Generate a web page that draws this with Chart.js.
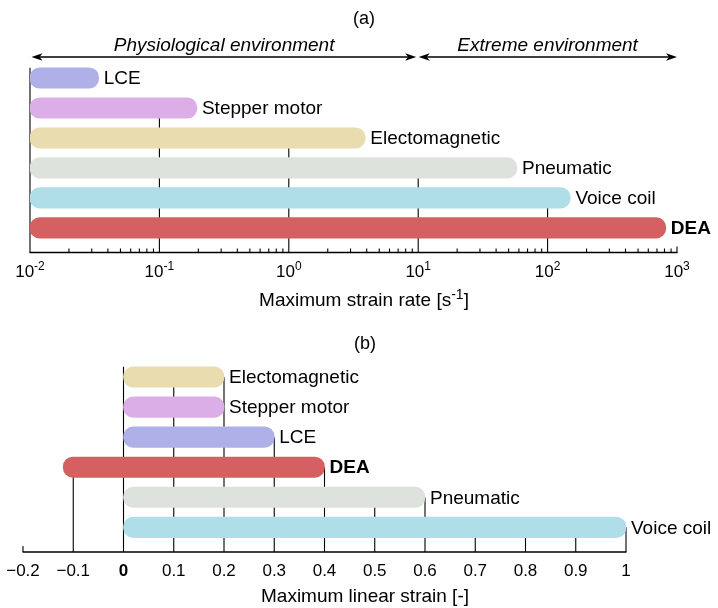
<!DOCTYPE html>
<html>
<head>
<meta charset="utf-8">
<script src="https://cdn.jsdelivr.net/npm/chart.js@4.4.0/dist/chart.umd.min.js"></script>
<style>
body { margin: 0; background: #fff; width: 718px; height: 608px; overflow: hidden; position: relative; }
canvas { position: absolute; left: 0; }
#rateChart { top: 0; }
#strainChart { top: 320px; }
</style>
</head>
<body>
<canvas id="rateChart" width="718" height="320"></canvas>
<canvas id="strainChart" width="718" height="288"></canvas>
<script>
// (a) maximum strain rate [s^-1], all ranges start at 10^-2
var rateNames = ['LCE', 'Stepper motor', 'Electomagnetic', 'Pneumatic', 'Voice coil', 'DEA'];
var rateLow = [0.01, 0.01, 0.01, 0.01, 0.01, 0.01];
var rateHigh = [0.034, 0.195, 3.9, 58, 150, 820];
var rateTicks = [0.01, 0.1, 1, 10, 100, 1000];
var rateExp = ['-2', '-1', '0', '1', '2', '3'];

// (b) maximum linear strain [-]
var strainNames = ['Electomagnetic', 'Stepper motor', 'LCE', 'DEA', 'Pneumatic', 'Voice coil'];
var strainLow = [0, 0, 0, -0.12, 0, 0];
var strainHigh = [0.2, 0.2, 0.3, 0.4, 0.6, 1.0];
var strainTicks = [-0.2, -0.1, 0, 0.1, 0.2, 0.3, 0.4, 0.5, 0.6, 0.7, 0.8, 0.9, 1];
var strainTickLabels = ['\u22120.2', '\u22120.1', '0', '0.1', '0.2', '0.3', '0.4', '0.5', '0.6', '0.7', '0.8', '0.9', '1'];

var colors = {
  'LCE': '#afb0e7',
  'Stepper motor': '#dcaee7',
  'Electomagnetic': '#e9dcae',
  'Pneumatic': '#dee2dc',
  'Voice coil': '#afdde8',
  'DEA': '#d46062'
};
var FONT = "'Liberation Sans', Arial, Helvetica, sans-serif";
var BAR = 20.5;

function rows(names, low, high) {
  return names.map(function (n, i) { return { y: i, x: [low[i], high[i]] }; });
}

function arrow(ctx, x1, x2, y) {
  ctx.beginPath();
  ctx.moveTo(x1 + 6, y);
  ctx.lineTo(x2 - 6, y);
  ctx.stroke();
  [[x1, 1], [x2, -1]].forEach(function (a) {
    ctx.beginPath();
    ctx.moveTo(a[0], y);
    ctx.lineTo(a[0] + a[1] * 11, y - 3.8);
    ctx.lineTo(a[0] + a[1] * 8, y);
    ctx.lineTo(a[0] + a[1] * 11, y + 3.8);
    ctx.closePath();
    ctx.fill();
  });
}

// text with a raised exponent, centred on cx
function supText(ctx, parts, cx, base, size, supSize) {
  ctx.textAlign = 'left';
  ctx.textBaseline = 'alphabetic';
  var w = 0;
  parts.forEach(function (p) {
    ctx.font = (p.sup ? supSize : size) + 'px ' + FONT;
    p.w = ctx.measureText(p.t).width;
    w += p.w;
  });
  var x = cx - w / 2;
  parts.forEach(function (p) {
    ctx.font = (p.sup ? supSize : size) + 'px ' + FONT;
    ctx.fillText(p.t, x, p.sup ? base - 7 : base);
    x += p.w;
  });
}

function panel(cfg) {
  return {
    id: 'panel',
    beforeDatasetsDraw: function (chart) {
      var ctx = chart.ctx, xs = chart.scales.x, ys = chart.scales.y;
      var axisY = chart.chartArea.bottom;
      ctx.save();
      ctx.strokeStyle = '#000';
      ctx.fillStyle = '#000';
      // drop lines up to the topmost bar that spans each major tick
      ctx.lineWidth = 1.1;
      cfg.ticks.forEach(function (v) {
        var px = xs.getPixelForValue(v);
        var top = axisY - 6;
        for (var i = 0; i < cfg.names.length; i++) {
          var a = xs.getPixelForValue(cfg.low[i]), b = xs.getPixelForValue(cfg.high[i]);
          if (px >= a - 1 && px <= b + 1) {
            var yc = ys.getPixelForValue(i);
            top = Math.abs(px - a) < 1.5 ? yc - BAR / 2 : yc;
            break;
          }
        }
        ctx.beginPath();
        ctx.moveTo(px, axisY);
        ctx.lineTo(px, top);
        ctx.stroke();
      });
      (cfg.minor || []).forEach(function (v) {
        var px = xs.getPixelForValue(v);
        ctx.beginPath();
        ctx.moveTo(px, axisY);
        ctx.lineTo(px, axisY - 4);
        ctx.stroke();
      });
      // axis line
      ctx.lineWidth = 1.5;
      ctx.beginPath();
      ctx.moveTo(chart.chartArea.left - 0.5, axisY);
      ctx.lineTo(chart.chartArea.right + 0.5, axisY);
      ctx.stroke();
      ctx.restore();
    },
    afterDatasetsDraw: function (chart) {
      var ctx = chart.ctx, xs = chart.scales.x, ys = chart.scales.y;
      ctx.save();
      ctx.fillStyle = '#000';
      // bar names at the bar ends
      ctx.textAlign = 'left';
      ctx.textBaseline = 'middle';
      cfg.names.forEach(function (n, i) {
        ctx.font = (n === 'DEA' ? 'bold ' : '') + '19px ' + FONT;
        ctx.fillText(n, xs.getPixelForValue(cfg.high[i]) + 5, ys.getPixelForValue(i) + 1);
      });
      cfg.extra(ctx, xs, chart);
      ctx.restore();
    }
  };
}

var minorRate = [];
for (var d = -2; d < 3; d++) {
  for (var m = 2; m < 10; m++) minorRate.push(m * Math.pow(10, d));
}

function makeChart(id, names, low, high, xScale, padding, plugin) {
  return new Chart(document.getElementById(id).getContext('2d'), {
    type: 'bar',
    data: {
      datasets: [{
        data: rows(names, low, high),
        backgroundColor: names.map(function (n) { return colors[n]; }),
        barThickness: BAR,
        borderRadius: 10,
        borderSkipped: false
      }]
    },
    options: {
      responsive: false,
      animation: false,
      indexAxis: 'y',
      layout: { padding: padding },
      plugins: { legend: { display: false }, tooltip: { enabled: false } },
      scales: {
        x: xScale,
        y: { type: 'linear', min: -0.5, max: 5.82, reverse: true, offset: false, display: false }
      }
    },
    plugins: [plugin]
  });
}

makeChart('rateChart', rateNames, rateLow, rateHigh,
  { type: 'logarithmic', min: 0.01, max: 1000, offset: false, display: false },
  { left: 30, right: 41, top: 63, bottom: 67.5 },
  panel({
    names: rateNames, low: rateLow, high: rateHigh, ticks: rateTicks, minor: minorRate,
    extra: function (ctx, xs) {
      rateTicks.forEach(function (v, i) {
        supText(ctx, [{ t: '10' }, { t: rateExp[i], sup: true }], xs.getPixelForValue(v), 277, 17, 12);
      });
      supText(ctx, [{ t: 'Maximum strain rate [s' }, { t: '-1', sup: true }, { t: ']' }], 364, 306, 19, 14);
      ctx.font = '18px ' + FONT;
      ctx.textAlign = 'center';
      ctx.fillText('(a)', 364, 24);
      // environment arrows
      ctx.strokeStyle = '#000';
      ctx.lineWidth = 1.5;
      var x0 = xs.getPixelForValue(0.01), x10 = xs.getPixelForValue(10), x3 = xs.getPixelForValue(1000);
      arrow(ctx, x0 + 1.5, x10 - 2, 57);
      arrow(ctx, x10 + 0.5, x3, 57);
      ctx.font = 'italic 19px ' + FONT;
      ctx.textAlign = 'center';
      ctx.textBaseline = 'alphabetic';
      ctx.fillText('Physiological environment', (x0 + x10) / 2, 51);
      ctx.fillText('Extreme environment', (x10 + x3) / 2, 51);
    }
  }));

makeChart('strainChart', strainNames, strainLow, strainHigh,
  { type: 'linear', min: -0.2, max: 1, offset: false, display: false },
  { left: 23, right: 92, top: 42, bottom: 56 },
  panel({
    names: strainNames, low: strainLow, high: strainHigh, ticks: strainTicks,
    extra: function (ctx, xs) {
      ctx.textAlign = 'center';
      ctx.textBaseline = 'alphabetic';
      strainTicks.forEach(function (v, i) {
        ctx.font = (v === 0 ? 'bold ' : '') + '17px ' + FONT;
        ctx.fillText(strainTickLabels[i], xs.getPixelForValue(v), 256);
      });
      ctx.font = '19px ' + FONT;
      ctx.fillText('Maximum linear strain [-]', 365, 282);
      ctx.font = '18px ' + FONT;
      ctx.fillText('(b)', 365, 29);
    }
  }));
</script>
</body>
</html>
